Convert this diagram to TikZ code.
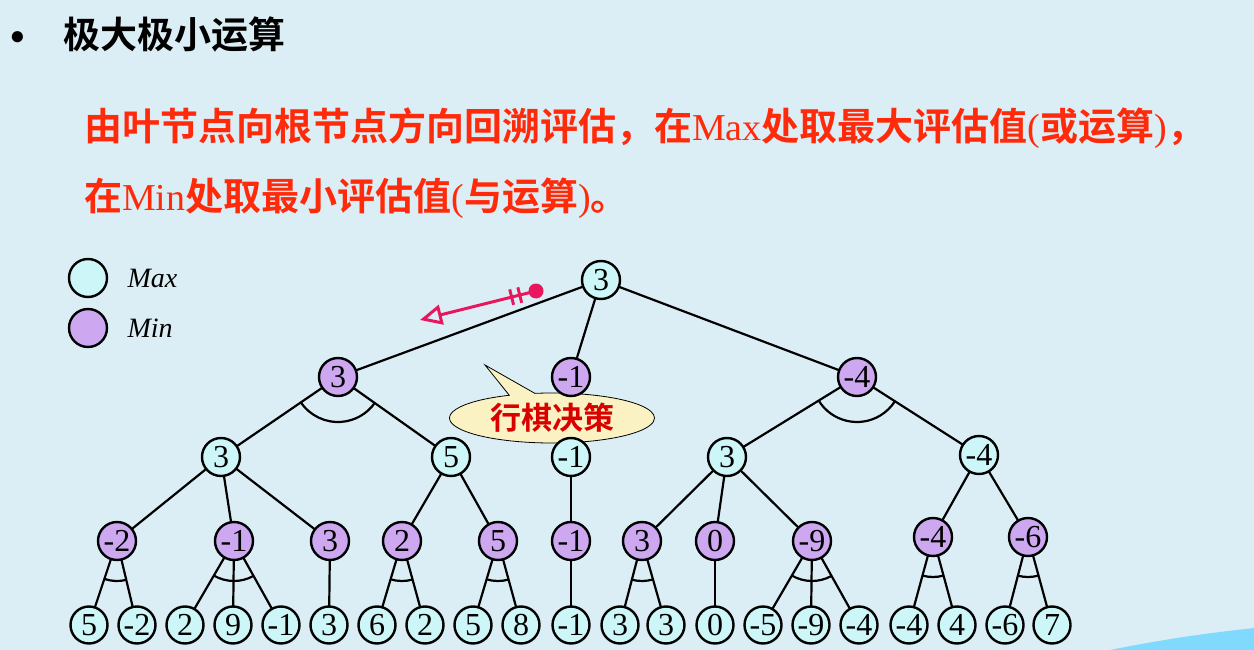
\documentclass[tikz,border=0pt]{standalone}
\usepackage{fontspec}
\setmainfont{Liberation Serif}
\newfontfamily\cjk{Noto Sans CJK SC}[BoldFont={* Bold}]
\usetikzlibrary{calc,arrows.meta,shapes.callouts}
\definecolor{bg}{HTML}{DCEEF5}
\definecolor{maxc}{HTML}{CCF6F8}
\definecolor{minc}{HTML}{CDA8F0}
\definecolor{redt}{HTML}{FF2A0A}
\definecolor{pinkc}{HTML}{E8175D}
\definecolor{callc}{HTML}{FAF2C2}
\tikzset{
  mx/.style={circle,draw,line width=2.4pt,fill=maxc,minimum size=38pt,inner sep=0pt,font=\fontsize{32}{32}\selectfont},
  mn/.style={mx,fill=minc},
  ed/.style={line width=2.2pt},
}
\newcommand\andarc[4]{\draw[ed] let \p1=($(#2)-(#1)$), \p2=($(#3)-(#1)$), \n1={-atan2(\y1,\x1)}, \n2={-atan2(\y2,\x2)} in ($(#1)+(\n1:#4)$) arc[start angle=\n1, end angle=\n2, radius=#4];}
\begin{document}
\begin{tikzpicture}[x=1pt,y=-1pt]
\fill[bg] (0,0) rectangle (1254,650);
\useasboundingbox (0,0) rectangle (1254,650);
\fill[blue!30!cyan!50] (1110,650) .. controls (1180,636) and (1220,632) .. (1254,628) -- (1254,650) -- cycle;
% title
\node[anchor=west,font=\fontsize{26}{26}\selectfont] (bul) at (6,38) {●};
\node[anchor=west,font=\cjk\bfseries\fontsize{37}{37}\selectfont] (ttl) at (60,34) {极大极小运算};
\node[anchor=west,text=redt,font=\fontsize{38}{38}\selectfont,inner sep=0] (l1) at (84,128) {{\cjk\bfseries 由叶节点向根节点方向回溯评估，在}Max{\cjk\bfseries 处取最大评估值}({\cjk\bfseries 或运算}){\cjk\bfseries ，}};
\node[anchor=west,text=redt,font=\fontsize{38}{38}\selectfont,inner sep=0] (l2) at (84,198) {{\cjk\bfseries 在}Min{\cjk\bfseries 处取最小评估值}({\cjk\bfseries 与运算}){\cjk\bfseries 。}};
% legend
\node[mx] (lgmax) at (88,278) {};
\node[mn] (lgmin) at (88,328) {};
\node[anchor=west,font=\itshape\fontsize{28}{28}\selectfont] (tmax) at (124,278) {Max};
\node[anchor=west,font=\itshape\fontsize{28}{28}\selectfont] (tmin) at (124,328) {Min};
% coordinates
\coordinate (r) at (601,280);
\coordinate (a1) at (338,377); \coordinate (a2) at (571,377); \coordinate (a3) at (857,377);
\coordinate (b1) at (221,457); \coordinate (b2) at (451,457); \coordinate (b3) at (571,457); \coordinate (b4) at (727,457); \coordinate (b5) at (979,455);
\foreach \n/\x/\y in {1/117/541,2/234/541,3/330/541,4/402/541,5/498/541,6/571/541,7/642/541,8/715/541,9/812/541,10/933/537,11/1028/537}
  \coordinate (c\n) at (\x,\y);
\foreach \n/\x in {1/89,2/137,3/185,4/233,5/281,6/329,7/377,8/425,9/473,10/521,11/571,12/620,13/666,14/715,15/763,16/811,17/859,18/909,19/957,20/1005,21/1052}
  \coordinate (d\n) at (\x,625);
% edges
\foreach \p/\c in {r/a1,r/a2,r/a3,a1/b1,a1/b2,a2/b3,a3/b4,a3/b5,
  b1/c1,b1/c2,b1/c3,b2/c4,b2/c5,b3/c6,b4/c7,b4/c8,b4/c9,b5/c10,b5/c11,
  c1/d1,c1/d2,c2/d3,c2/d4,c2/d5,c3/d6,c4/d7,c4/d8,c5/d9,c5/d10,c6/d11,c7/d12,c7/d13,c8/d14,c9/d15,c9/d16,c9/d17,c10/d18,c10/d19,c11/d20,c11/d21}
  \draw[ed] (\p) -- (\c);
\andarc{a1}{b1}{b2}{45}
\andarc{a3}{b4}{b5}{45}
\andarc{c1}{d1}{d2}{40}
\andarc{c2}{d3}{d5}{40}
\andarc{c4}{d7}{d8}{40}
\andarc{c5}{d9}{d10}{40}
\andarc{c7}{d12}{d13}{40}
\andarc{c9}{d15}{d17}{40}
\andarc{c10}{d18}{d19}{40}
\andarc{c11}{d20}{d21}{40}
% callout
\node[ellipse callout,draw,line width=0.8pt,fill=callc,minimum width=205pt,minimum height=50pt,inner sep=0pt,callout absolute pointer={(485,365)},text=red!85!black,font=\cjk\bfseries\fontsize{31}{31}\selectfont] (call) at (552,418) {行棋决策};
% nodes
\node[mx] (nr) at (r) {3};
\node[mn] at (a1) {3}; \node[mn] at (a2) {-1}; \node[mn] at (a3) {-4};
\foreach \n/\v in {1/3,2/5,3/-1,4/3,5/-4} \node[mx] (nb\n) at (b\n) {\v};
\foreach \n/\v in {1/-2,2/-1,3/3,4/2,5/5,6/-1,7/3,8/0,9/-9,10/-4,11/-6} \node[mn] (nc\n) at (c\n) {\v};
\foreach \n/\v in {1/5,2/-2,3/2,4/9,5/-1,6/3,7/6,8/2,9/5,10/8,11/-1,12/3,13/3,14/0,15/-5,16/-9,17/-4,18/-4,19/4,20/-6,21/7} \node[mx,minimum size=37pt] (nd\n) at (d\n) {\v};
% pink arrow
\coordinate (pa) at (536,291);
\coordinate (pb) at (420,320);
\fill[pinkc] (pa) circle (7.5pt);
\draw[pinkc,line width=3pt,-{Triangle[open,length=22pt,width=20pt]}] (pa) -- (pb)
  node[sloped,pos=0.14,draw=pinkc,line width=3pt,inner sep=0,minimum height=16pt,minimum width=0pt]{}
  node[sloped,pos=0.21,draw=pinkc,line width=3pt,inner sep=0,minimum height=16pt,minimum width=0pt]{};
\end{tikzpicture}
\end{document}
